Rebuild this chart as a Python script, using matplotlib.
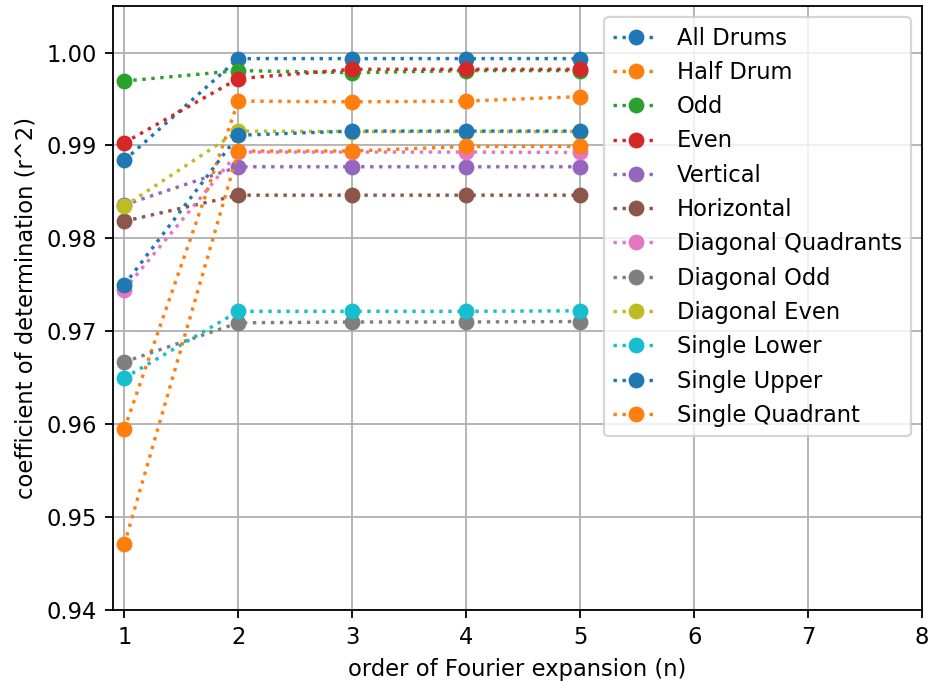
import matplotlib
matplotlib.use("Agg")
import matplotlib.pyplot as plt

OUTPUT_FILE = "out.png"
DPI = 163

# Fourier expansion order
orders = [1, 2, 3, 4, 5]

labels = [
    "All Drums", "Half Drum", "Odd", "Even", "Vertical", "Horizontal",
    "Diagonal Quadrants", "Diagonal Odd", "Diagonal Even",
    "Single Lower", "Single Upper", "Single Quadrant",
]

# r^2 values, one list per configuration
all_drums = [0.9884, 0.99935, 0.99935, 0.99935, 0.99935]
half_drum = [0.9595, 0.99478, 0.99470, 0.99478, 0.99526]
odd = [0.99694, 0.99806, 0.99784, 0.99806, 0.99806]
even = [0.9903, 0.9972, 0.9982, 0.9982, 0.9982]
vertical = [0.9836, 0.98771, 0.98771, 0.98771, 0.98771]
horizontal = [0.98185, 0.98465, 0.98465, 0.98465, 0.98465]
diagonal_quadrants = [0.97449, 0.98929, 0.98929, 0.98929, 0.98925]
diagonal_odd = [0.9667, 0.97091, 0.97100, 0.97100, 0.97105]
diagonal_even = [0.98347, 0.99155, 0.99150, 0.99150, 0.99150]
single_lower = [0.96498, 0.97215, 0.97215, 0.97215, 0.9722]
single_upper = [0.9750, 0.9911, 0.99155, 0.99155, 0.99155]
single_quadrant = [0.94709, 0.9894, 0.9894, 0.9899, 0.9899]

series = [
    all_drums, half_drum, odd, even, vertical, horizontal,
    diagonal_quadrants, diagonal_odd, diagonal_even,
    single_lower, single_upper, single_quadrant,
]

fig = plt.figure(figsize=(930 / DPI, 681 / DPI), dpi=DPI)
ax = fig.add_axes([0.1215, 0.1043, 0.8699, 0.8867])

for i, (name, values) in enumerate(zip(labels, series)):
    ax.plot(orders, values, "o:", color=f"C{i % 10}", label=name)

ax.set_xlim(0.9, 8)
ax.set_ylim(0.94, 1.005)
ax.set_xlabel("order of Fourier expansion (n)")
ax.set_ylabel("coefficient of determination (r^2)")
ax.grid(True)
ax.legend(loc="upper right")

fig.savefig(OUTPUT_FILE, dpi=DPI)
